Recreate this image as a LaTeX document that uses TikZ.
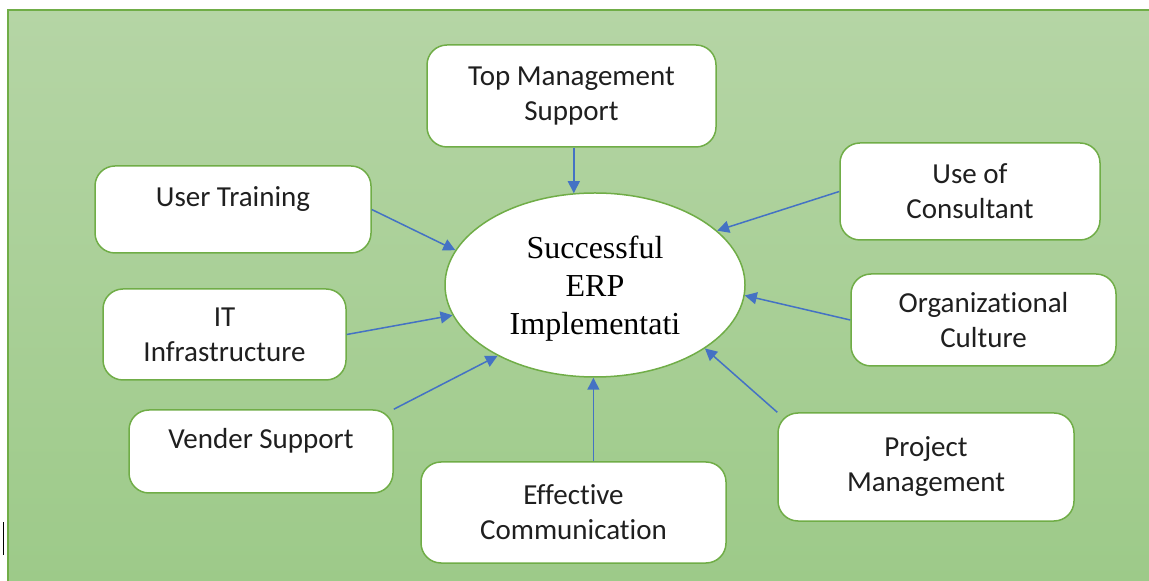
\documentclass[tikz,border=0pt]{standalone}
\usepackage{fontspec}
\setmainfont{Carlito}[Ligatures=NoCommon]
\newfontfamily\erpfont{Liberation Serif}
\usetikzlibrary{arrows.meta,shapes.geometric}
\definecolor{bgtop}{RGB}{181,213,165}
\definecolor{bgbottom}{RGB}{157,202,137}
\definecolor{boxgreen}{RGB}{112,173,71}
\definecolor{arrowblue}{RGB}{68,114,196}

\begin{document}
\begin{tikzpicture}[x=0.5pt, y=-0.5pt,
        main/.style = {draw=boxgreen, line width=0.75pt, fill=white, rounded corners=10pt,
            align=center, inner sep=0pt, text=black!88, font=\fontsize{14.5}{17.5}\selectfont},
        oneline/.style = {text depth=13pt},
        goal/.style = {draw=boxgreen, line width=0.75pt, fill=white, ellipse, inner sep=0pt,
            align=center, minimum width=150pt, minimum height=92pt, text depth=-1.5pt,
            font=\erpfont\fontsize{16}{19}\selectfont},
        link/.style = {draw=arrowblue, line width=0.75pt, -{Triangle[length=6pt,width=6pt]}}]
        \useasboundingbox (0,0) rectangle (1149,581);
        % background
        \shade[top color=bgtop, bottom color=bgbottom] (7,10) rectangle (1149,581);
        \draw[boxgreen, line width=1pt] (7.5,581) -- (7.5,10.5) -- (1149,10.5);
        \draw[black, line width=0.75pt] (3.5,522) -- (3.5,555);
        % factors
        \node[main, minimum width=144.5pt, minimum height=51pt] (topm) at (571.5,96) {Top Management\\Support};
        \node[main, oneline, minimum width=138pt, minimum height=43.5pt] (user) at (233,209.5) {User Training};
        \node[main, minimum width=121.5pt, minimum height=45.5pt] (infra) at (224.5,334.5) {IT\\Infrastructure};
        \node[main, oneline, minimum width=132pt, minimum height=41.5pt] (vendor) at (261,451.5) {Vender Support};
        \node[main, minimum width=152.5pt, minimum height=50.5pt] (comm) at (573.5,512.5) {Effective\\Communication};
        \node[main, minimum width=130pt, minimum height=48.5pt] (consult) at (970,191.5) {Use of\\Consultant};
        \node[main, minimum width=132.5pt, minimum height=46pt] (culture) at (983.5,320) {Organizational\\Culture};
        \node[main, minimum width=148pt, minimum height=54pt] (project) at (926,467) {Project\\Management};
        \node[goal] (erp) at (595,285) {Successful\\ERP\\Implementati};
        % links
        \draw[link] (topm.south -| erp.103) -- (erp.103);
        \draw[link] (user.east) -- (erp.166);
        \draw[link] (infra.east) -- (erp.192);
        \draw[link] (vendor.north east) -- (erp.216);
        \draw[link] (comm.north -| erp.269) -- (erp.269);
        \draw[link] (consult.west) -- (erp.24);
        \draw[link] (culture.west) -- (erp.-4);
        \draw[link] (project.north west) -- (erp.-30);
    \end{tikzpicture}
\end{document}
